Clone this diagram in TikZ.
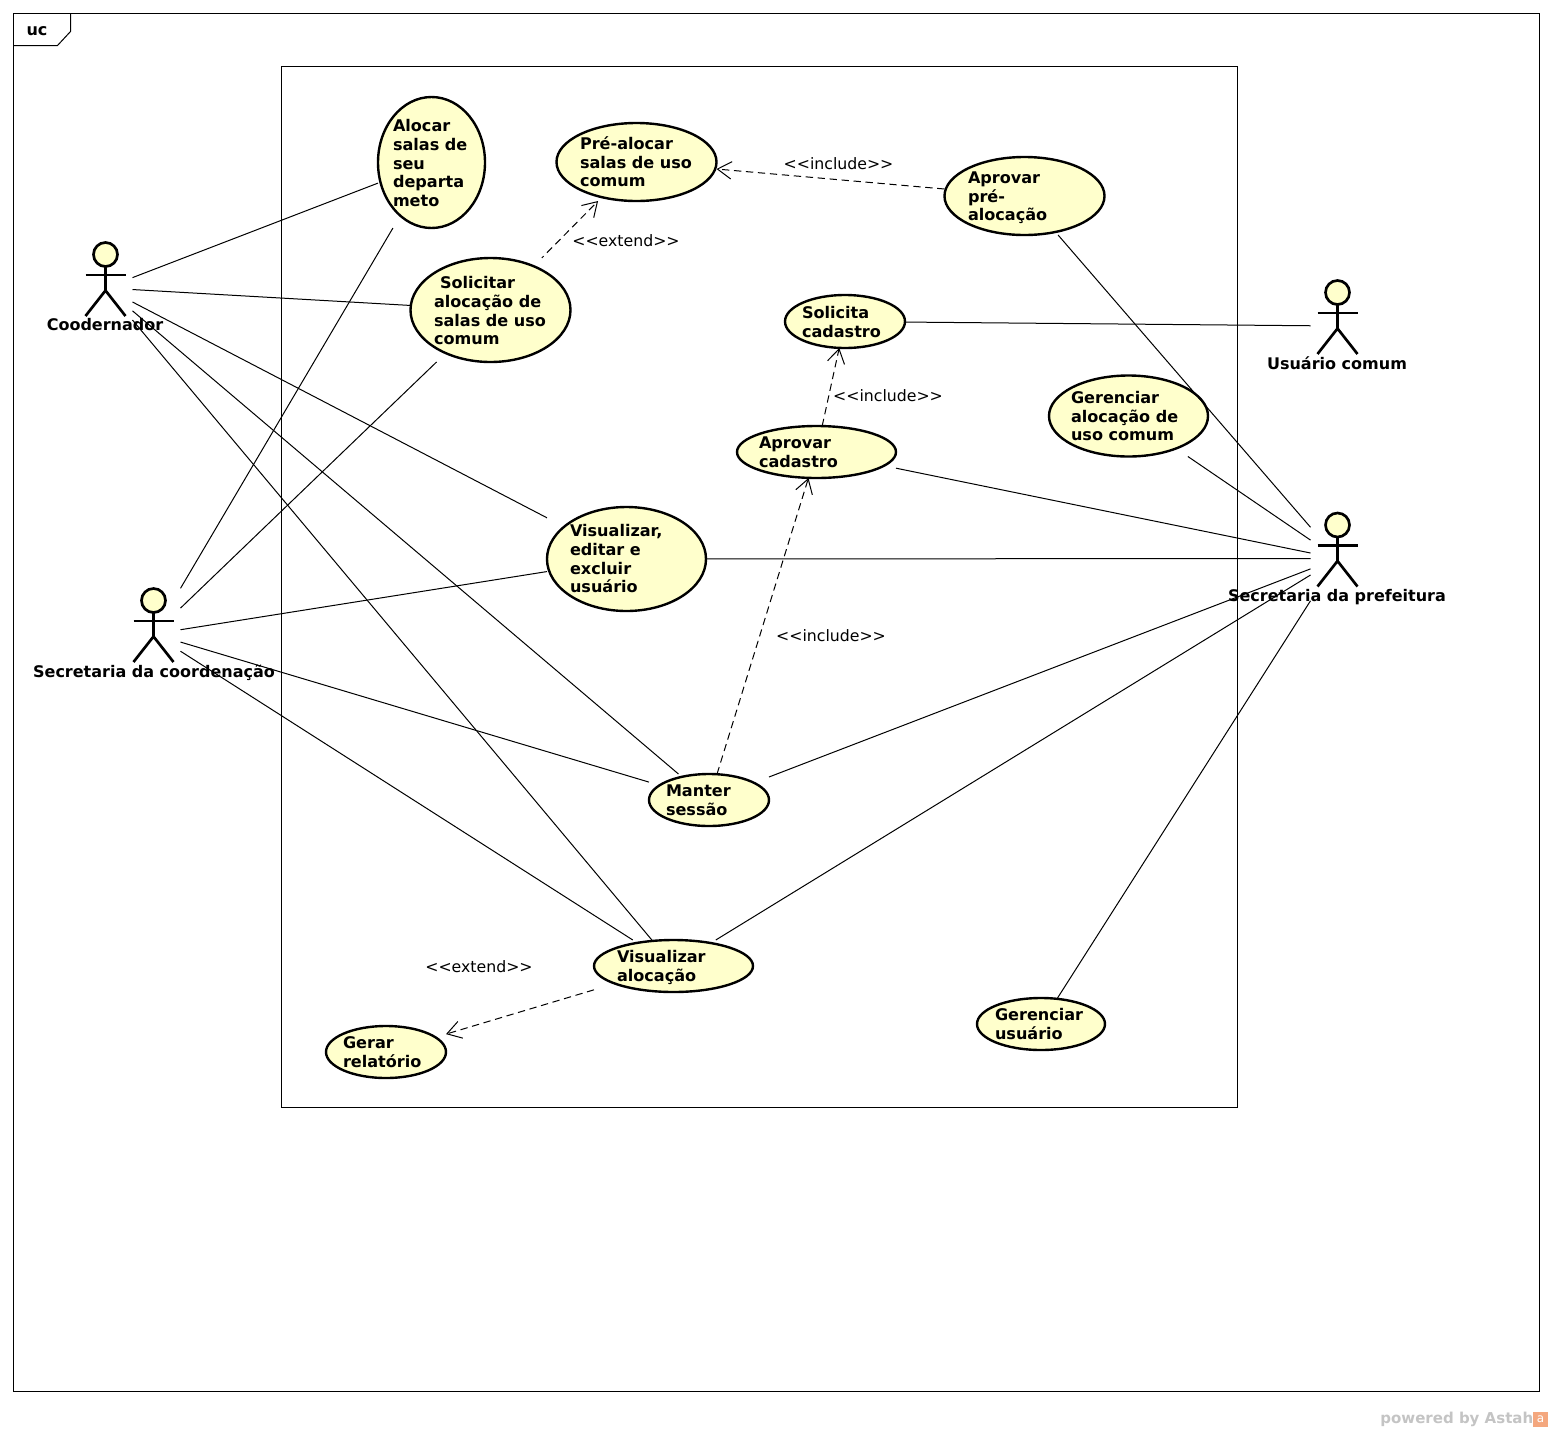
\documentclass[tikz,border=0pt]{standalone}
\usepackage{fontspec}
\setmainfont{DejaVu Sans}
\usetikzlibrary{arrows.meta}
\definecolor{ucfill}{HTML}{FFFFCC}
\definecolor{astahgray}{HTML}{C4C4C4}
\definecolor{astahorange}{HTML}{F4A77E}
\tikzset{
  x=0.75pt,y=-0.75pt,
  frameline/.style={draw=black,line width=0.75pt},
  ucoutline/.style={draw=black,fill=ucfill,line width=1.8pt},
  actorline/.style={draw=black,line width=2pt},
  ucbox/.style={rectangle,inner sep=0pt,outer sep=0pt},
  uctext/.style={anchor=north west,inner sep=0pt,outer sep=0pt,align=left,font=\bfseries\fontsize{12.05}{13.9}\selectfont},
  actorlabel/.style={inner sep=0pt,font=\bfseries\fontsize{12}{13.9}\selectfont},
  assoc/.style={draw=black,line width=0.75pt},
  dep/.style={draw=black,line width=0.75pt,dash pattern=on 5.5pt off 3.5pt,-{Straight Barb[length=10.5pt,width=13pt,line width=0.75pt]}},
  stereo/.style={inner sep=0pt,font=\fontsize{11.8}{13.9}\selectfont},
}
\newcommand{\usecase}[8]{%
  \node[ucbox,minimum width=#4*0.75pt,minimum height=#5*0.75pt] (#1) at (#2,#3) {};
  \draw[ucoutline] (#1.center) ellipse [x radius=#4/2,y radius=#5/2];
  \node[uctext] (#1-text) at (#6,#7-7) {\strut #8};
}
\newcommand{\actor}[5]{%
  \node[ucbox,minimum width=40.5pt,minimum height=69pt] (#1) at (#2,#3) {};
  \begin{scope}[shift={(#2,#3)}]
    \draw[actorline,fill=ucfill] (0,-33.5) circle [radius=12];
    \draw[actorline] (-20,-13) -- (20,-13);
    \draw[actorline] (0,-21.5) -- (0,2.5);
    \draw[actorline] (-20,28) -- (0,2.5) -- (20,28);
  \end{scope}
  \node[actorlabel] (#1-label) at (#4,#5) {#1};
}
\begin{document}
\begin{tikzpicture}
\useasboundingbox (0,0) rectangle (1553,1432);
\fill[white] (0,0) rectangle (1553,1432);
% frame
\draw[frameline] (13.5,13.5) rectangle (1539.5,1391.5);
\draw[frameline] (13.5,45.5) -- (57.5,45.5) -- (70.5,31.5) -- (70.5,13.5);
\node[actorlabel] (frametag) at (37,31.5) {uc};
% system boundary
\draw[frameline] (281.5,66.5) rectangle (1237.5,1107.5);
% use cases
\usecase{alocar}{431.5}{162.5}{107}{131}{393}{126}{Alocar\\salas de\\seu\\departa\\meto}
\usecase{prealocar}{636.5}{162}{160}{78}{580}{143.5}{Pré-alocar\\salas de uso\\comum}
\usecase{aprovarpre}{1024.5}{196}{160}{78}{968}{177.5}{Aprovar\\pré-\\alocação}
\usecase{solicitar}{490.5}{310}{160}{104}{434}{283}{\hspace{4.5pt}Solicitar\\alocação de\\salas de uso\\comum}
\usecase{solicita}{845}{321.5}{120}{53}{802}{312.5}{Solicita\\cadastro}
\usecase{gerenciaraloc}{1128.5}{416}{159}{81}{1071}{397.5}{Gerenciar\\alocação de\\uso comum}
\usecase{aprovarcad}{816.5}{452}{159}{52}{759}{443}{Aprovar\\cadastro}
\usecase{visualizar}{626.5}{559}{159}{104}{570}{531}{Visualizar,\\editar e\\excluir\\usuário}
\usecase{manter}{709}{800}{120}{52}{666}{791}{Manter\\sessão}
\usecase{visaloc}{673.5}{966}{159}{52}{617}{957}{Visualizar\\alocação}
\usecase{gerar}{386}{1052}{120}{52}{343}{1043}{Gerar\\relatório}
\usecase{gerusuario}{1041}{1024}{128}{52}{995}{1015}{Gerenciar\\usuário}
% actors
\actor{Coodernador}{105.5}{288}{105}{325}
\actor{Secretaria da coordenação}{153.5}{634}{154}{672.5}
\actor{Usuário comum}{1337.5}{326}{1337}{363.5}
\actor{Secretaria da prefeitura}{1337.5}{558.5}{1337}{597.5}
% associations
\foreach \u in {alocar,solicitar,visualizar,manter,visaloc}
  \draw[assoc] (Coodernador) -- (\u);
\foreach \u in {alocar,solicitar,visualizar,manter,visaloc}
  \draw[assoc] (Secretaria da coordenação) -- (\u);
\draw[assoc] (solicita) -- (Usuário comum);
\foreach \u in {aprovarpre,gerenciaraloc,aprovarcad,visualizar,manter,visaloc,gerusuario}
  \draw[assoc] (\u) -- (Secretaria da prefeitura);
% dependencies
\draw[dep] (aprovarpre) -- (prealocar);
\draw[dep,dash phase=3.5pt] (solicitar) -- (prealocar);
\draw[dep] (aprovarcad) -- (solicita);
\draw[dep] (manter) -- (aprovarcad);
\draw[dep] (visaloc) -- (gerar);
% stereotypes
\node[stereo] (s1) at (838.5,164) {<{}<include>{}>};
\node[stereo] (s2) at (626,241) {<{}<extend>{}>};
\node[stereo] (s3) at (888,396) {<{}<include>{}>};
\node[stereo] (s4) at (831,636) {<{}<include>{}>};
\node[stereo] (s5) at (479,967) {<{}<extend>{}>};
% watermark
\node[anchor=east,inner sep=0pt,text=astahgray,font=\bfseries\fontsize{11.25}{13}\selectfont] (powered) at (1533.5,1419.5) {powered by Astah};
\node[rectangle,fill=astahorange,minimum size=11.25pt,inner sep=0pt,text=white,font=\fontsize{9}{9}\selectfont] (logo) at (1540.5,1419.5) {a};
\end{tikzpicture}
\end{document}
